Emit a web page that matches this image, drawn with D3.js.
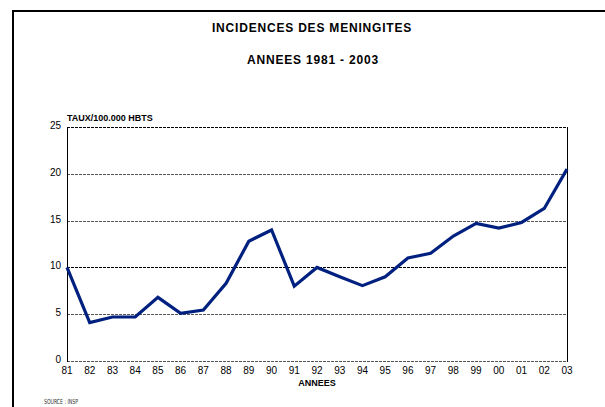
<!DOCTYPE html>
<html>
<head>
<meta charset="utf-8">
<script src="https://cdn.jsdelivr.net/npm/d3@7"></script>
<style>
body { margin: 0; background: #fff; font-family: 'Liberation Sans', Arial, sans-serif; }
svg text { fill: #000; }
</style>
</head>
<body>
<svg></svg>
<script>
    // Data
    var years = ['81','82','83','84','85','86','87','88','89','90','91','92',
                 '93','94','95','96','97','98','99','00','01','02','03'];
    var taux = [10.0, 4.1, 4.7, 4.7, 6.8, 5.1, 5.45, 8.3, 12.8, 14.0, 8.0, 10.0,
                9.0, 8.05, 9.0, 11.0, 11.5, 13.35, 14.7, 14.2, 14.8, 16.3, 20.5];
    var yTicks = [0, 5, 10, 15, 20, 25];

    var vWidth = 605, vHeight = 407;
    // plot box (note: "top" is a reserved window property, so prefix them)
    var pLeft = 67, pRight = 567, pTop = 127, pBottom = 361;

    var svg = d3.select('svg')
        .attr('width', vWidth)
        .attr('height', vHeight);

    // outer frame (only top and left are visible)
    svg.append('line').attr('x1', 12).attr('x2', vWidth).attr('y1', 11).attr('y2', 11)
        .attr('stroke', '#000').attr('stroke-width', 2);
    svg.append('line').attr('x1', 13).attr('x2', 13).attr('y1', 10).attr('y2', vHeight)
        .attr('stroke', '#000').attr('stroke-width', 2);

    // titles
    svg.append('text').attr('x', 312).attr('y', 32).attr('text-anchor', 'middle')
        .style('font-size', '12px').style('font-weight', 'bold').style('letter-spacing', '0.8px')
        .text('INCIDENCES DES MENINGITES');
    svg.append('text').attr('x', 313).attr('y', 64).attr('text-anchor', 'middle')
        .style('font-size', '12px').style('font-weight', 'bold').style('letter-spacing', '0.8px')
        .text('ANNEES 1981 - 2003');

    var x = d3.scalePoint().domain(years).range([pLeft, pRight]);
    var y = d3.scaleLinear().domain([0, 25]).range([pBottom, pTop]);

    // dashed gridlines
    svg.append('g').selectAll('line')
        .data(yTicks)
        .enter().append('line')
        .attr('x1', pLeft).attr('x2', pRight)
        .attr('y1', function (d) { return Math.round(y(d)) + 0.5; })
        .attr('y2', function (d) { return Math.round(y(d)) + 0.5; })
        .attr('stroke', function (d) { return d === 10 || d === 25 ? '#000' : '#555'; })
        .attr('stroke-dasharray', '3,1');

    // left and right sides of the plot frame
    [pLeft, pRight].forEach(function (px) {
        svg.append('line').attr('x1', px + 0.5).attr('x2', px + 0.5)
            .attr('y1', pTop).attr('y2', pBottom + 1)
            .attr('stroke', '#000').attr('stroke-width', 1);
    });

    // y labels
    svg.append('g').selectAll('text')
        .data(yTicks)
        .enter().append('text')
        .attr('x', 61).attr('y', function (d) { return y(d) + 2; })
        .attr('text-anchor', 'end')
        .style('font-size', '10px')
        .text(function (d) { return d; });

    // x labels
    svg.append('g').selectAll('text')
        .data(years)
        .enter().append('text')
        .attr('x', function (d) { return x(d); })
        .attr('y', 374)
        .attr('text-anchor', 'middle')
        .style('font-size', '10px')
        .text(function (d) { return d; });

    svg.append('text').attr('x', 67).attr('y', 121)
        .style('font-size', '9px').style('font-weight', 'bold').text('TAUX/100.000 HBTS');
    svg.append('text').attr('x', 317).attr('y', 386).attr('text-anchor', 'middle')
        .style('font-size', '9px').style('font-weight', 'bold').text('ANNEES');
    // source note at the bottom edge
    svg.append('text').attr('x', 44).attr('y', 404)
        .attr('textLength', 34).attr('lengthAdjust', 'spacingAndGlyphs')
        .style('font-size', '7px').style('font-family', "'Liberation Sans Narrow', 'DejaVu Sans Condensed', sans-serif")
        .style('fill', '#333').text('SOURCE : INSP');

    // the series
    var line = d3.line()
        .x(function (d, i) { return x(years[i]); })
        .y(function (d) { return y(d); });

    svg.append('path')
        .datum(taux)
        .attr('d', line)
        .attr('fill', 'none')
        .attr('stroke', '#002080')
        .attr('stroke-width', 3.2)
        .attr('stroke-linejoin', 'miter');
</script>
</body>
</html>
